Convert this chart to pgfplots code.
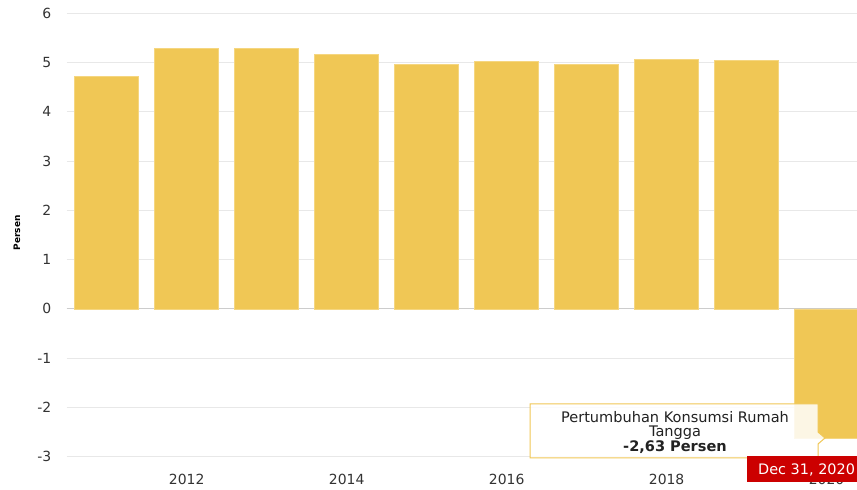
\documentclass[border=0pt]{standalone}
\usepackage{pgfplots}
\pgfplotsset{compat=1.18}
\usepackage{fontspec}
\setmainfont{DejaVu Sans}
\definecolor{barfill}{HTML}{F0C755}
\definecolor{baredge}{HTML}{F5D680}
\definecolor{gridc}{HTML}{E8E8E8}
\definecolor{zeroc}{HTML}{CCCCCC}
\definecolor{txt}{HTML}{333333}
\definecolor{tiptxt}{HTML}{222222}
\definecolor{tipred}{HTML}{CC0000}
\begin{document}
\begin{tikzpicture}
\path[use as bounding box] (0bp,0bp) rectangle (857bp,490bp);
\begin{axis}[
  at={(66.7bp,33.3bp)}, anchor=south west,
  scale only axis, width=790.3bp, height=443.4bp,
  xmin=2010.5, xmax=2020.38, ymin=-3, ymax=6,
  ytick={-3,-2,-1,0,1,2,3,4,5,6},
  xtick={2012,2014,2016,2018,2020},
  axis line style={draw=none},
  major tick length=0pt,
  ymajorgrids,
  grid style={gridc, line width=0.9bp},
  extra y ticks={0},
  extra y tick labels={},
  extra y tick style={grid style={zeroc, line width=0.9bp}},
  tick label style={font=\fontsize{14}{16}\selectfont, text=txt},
  /pgf/number format/assume math mode=true,
  /pgf/number format/1000 sep={},
  yticklabel style={xshift=-12bp},
  xticklabel style={yshift=-14bp},
  ylabel={Persen},
  ylabel style={font=\bfseries\fontsize{9}{10}\selectfont, text=black,
    at={(axis description cs:-0.0629,0.505)}, anchor=center},
  ybar, bar width=64bp,
]
\addplot[fill=barfill, draw=baredge, line width=0.8bp] coordinates {
  (2011,4.72) (2012,5.29) (2013,5.29) (2014,5.17) (2015,4.97)
  (2016,5.02) (2017,4.97) (2018,5.06) (2019,5.04) (2020,-2.63)
};
\end{axis}
\filldraw[fill=white, fill opacity=0.85, draw=barfill, line width=1bp]
  (530bp,86bp) -- (818bp,86bp) -- (818bp,58bp) -- (825bp,52bp) -- (818bp,46bp)
  -- (818bp,32bp) -- (530bp,32bp) -- cycle;
\node[align=center, text=tiptxt, font=\fontsize{14.6}{14.8}\selectfont, inner sep=0pt]
  at (675bp,57.5bp) {Pertumbuhan Konsumsi Rumah\\Tangga\\\textbf{-2,63 Persen}};
\fill[tipred] (747bp,8bp) rectangle (860bp,34bp);
\node[anchor=west, text=white, font=\fontsize{14.5}{16}\selectfont, inner sep=0pt]
  at (758bp,20bp) {Dec 31, 2020};
\end{tikzpicture}
\end{document}
